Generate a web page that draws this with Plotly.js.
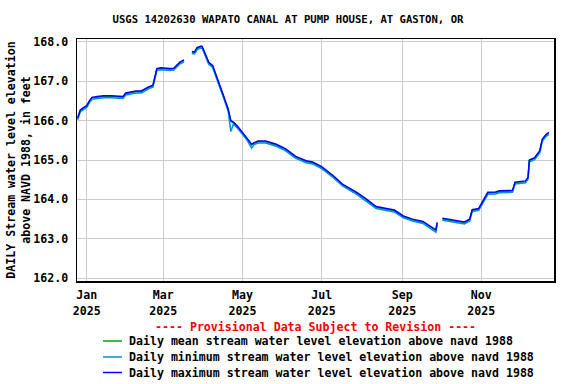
<!DOCTYPE html>
<html>
<head>
<meta charset="utf-8">
<script src="https://cdn.plot.ly/plotly-3.0.1.min.js"></script>
<style>
	html, body { margin: 0; padding: 0; background: #ffffff; }
	#plot { width: 576px; height: 384px; }
</style>
</head>
<body>
<div id="plot"></div>
<script>
const TITLE = "USGS 14202630 WAPATO CANAL AT PUMP HOUSE, AT GASTON, OR";
const Y_TITLE = "DAILY Stream water level elevation<br>above NAVD 1988, in feet";
const NOTE = "---- Provisional Data Subject to Revision ----";
const SERIES_NAMES = [
	"Daily mean stream water level elevation above navd 1988",
	"Daily minimum stream water level elevation above navd 1988",
	"Daily maximum stream water level elevation above navd 1988",
];
const SERIES_COLORS = ["#00a800", "#0090e0", "#0000ff"];

// dates (null rows are the gaps in the record)
const dates = [
	"2024-12-25", "2024-12-27", "2024-12-30", "2025-01-01", "2025-01-03", "2025-01-05", "2025-01-09", "2025-01-14", "2025-01-20", "2025-01-25", "2025-01-29", "2025-01-31",
	"2025-02-04", "2025-02-08", "2025-02-12", "2025-02-15", "2025-02-18", "2025-02-21", "2025-02-22", "2025-02-24", "2025-02-27",
	"2025-03-02", "2025-03-06", "2025-03-09", "2025-03-11", "2025-03-14", "2025-03-17", "2025-03-20", "2025-03-23", "2025-03-25", "2025-03-27", "2025-03-30", "2025-03-31",
	"2025-04-03", "2025-04-05", "2025-04-08", "2025-04-12", "2025-04-16", "2025-04-20", "2025-04-22", "2025-04-24", "2025-04-27",
	"2025-05-01", "2025-05-05", "2025-05-08", "2025-05-10", "2025-05-13", "2025-05-19", "2025-05-27",
	"2025-06-03", "2025-06-11", "2025-06-19", "2025-06-24",
	"2025-07-01", "2025-07-10", "2025-07-17", "2025-07-28",
	"2025-08-04", "2025-08-12", "2025-08-20", "2025-08-26",
	"2025-09-02", "2025-09-09", "2025-09-17", "2025-09-23", "2025-09-27", "2025-09-28", "2025-09-30",
	"2025-10-02", "2025-10-10", "2025-10-17", "2025-10-19", "2025-10-23", "2025-10-25", "2025-10-30",
	"2025-11-02", "2025-11-06", "2025-11-12", "2025-11-15", "2025-11-25", "2025-11-27",
	"2025-12-05", "2025-12-07", "2025-12-08", "2025-12-12", "2025-12-16", "2025-12-18", "2025-12-21", "2025-12-23",
];

const meanLevel = [
	166.05, 166.25, 166.32, 166.36, 166.48, 166.57, 166.59, 166.61, 166.61, 166.59, 166.59, 166.68,
	166.71, 166.73, 166.73, 166.79, 166.84, 166.88, 167.02, 167.30, 167.32,
	167.31, 167.30, 167.31, 167.37, 167.47, 167.52, null, 167.73, 167.72, 167.83, 167.87, 167.86,
	167.62, 167.46, 167.38, 167.03, 166.65, 166.27, 165.98, 165.94, 165.84,
	165.68, 165.51, 165.38, 165.42, 165.46, 165.46, 165.38,
	165.27, 165.07, 164.96, 164.93,
	164.81, 164.58, 164.37, 164.16,
	164.00, 163.80, 163.75, 163.71,
	163.56, 163.48, 163.42, 163.29, 163.21, 163.40, null,
	163.50, 163.46, 163.42, 163.41, 163.48, 163.72, 163.75,
	163.94, 164.16, 164.17, 164.20, 164.21, 164.42,
	164.45, 164.54, 164.98, 165.04, 165.21, 165.51, 165.63, 165.68,
];

const minLevel = [
	166.02, 166.22, 166.29, 166.33, 166.45, 166.54, 166.56, 166.58, 166.58, 166.56, 166.56, 166.65,
	166.68, 166.70, 166.70, 166.76, 166.81, 166.85, 166.99, 167.27, 167.29,
	167.28, 167.27, 167.28, 167.34, 167.44, 167.49, null, 167.70, 167.69, 167.80, 167.84, 167.83,
	167.59, 167.43, 167.35, 167.00, 166.62, 166.24, 165.72, 165.91, 165.81,
	165.65, 165.48, 165.30, 165.39, 165.43, 165.43, 165.35,
	165.24, 165.04, 164.93, 164.90,
	164.78, 164.55, 164.34, 164.13,
	163.97, 163.77, 163.72, 163.68,
	163.53, 163.45, 163.39, 163.26, 163.17, 163.37, null,
	163.47, 163.43, 163.39, 163.38, 163.45, 163.69, 163.72,
	163.91, 164.13, 164.14, 164.17, 164.18, 164.39,
	164.42, 164.51, 164.95, 165.01, 165.18, 165.48, 165.60, 165.65,
];

const maxLevel = [
	166.07, 166.27, 166.34, 166.38, 166.50, 166.59, 166.61, 166.63, 166.63, 166.61, 166.61, 166.70,
	166.73, 166.75, 166.75, 166.81, 166.86, 166.90, 167.04, 167.32, 167.34,
	167.33, 167.32, 167.33, 167.39, 167.49, 167.54, null, 167.75, 167.74, 167.85, 167.89, 167.88,
	167.64, 167.48, 167.40, 167.05, 166.67, 166.29, 166.00, 165.96, 165.86,
	165.70, 165.53, 165.40, 165.44, 165.48, 165.48, 165.40,
	165.29, 165.09, 164.98, 164.95,
	164.83, 164.60, 164.39, 164.18,
	164.02, 163.82, 163.77, 163.73,
	163.58, 163.50, 163.44, 163.31, 163.23, 163.42, null,
	163.52, 163.48, 163.44, 163.43, 163.50, 163.74, 163.77,
	163.96, 164.18, 164.19, 164.22, 164.23, 164.44,
	164.47, 164.56, 165.00, 165.06, 165.23, 165.53, 165.65, 165.70,
];

const X_RANGE = ["2024-12-24 12:00", "2025-12-27"];
const Y_RANGE = [161.93, 168.07];

const FONT = "DejaVu Sans Mono, monospace";

// plot box in pixels, used to place the hand-made legend below it
const PLOT_L = 77;
const PLOT_W = 477;
const PLOT_B = 281;
const PLOT_H = 242;
const px = (x) => (x - PLOT_L) / PLOT_W;
const py = (y) => (PLOT_B - y) / PLOT_H;

const traces = [meanLevel, minLevel, maxLevel].map((values, i) => ({
	x: dates,
	y: values,
	type: "scatter",
	mode: "lines",
	name: SERIES_NAMES[i],
	line: { color: SERIES_COLORS[i], width: 1.5 },
	connectgaps: false,
}));

// legend rows drawn by hand so the spacing matches
const LEGEND_ROWS = [341, 357, 372.5];
const legendShapes = LEGEND_ROWS.map((row, i) => ({
	type: "line",
	xref: "paper",
	yref: "paper",
	x0: px(103),
	x1: px(122),
	y0: py(row),
	y1: py(row),
	line: { color: SERIES_COLORS[i], width: 1.5 },
}));
const legendLabels = LEGEND_ROWS.map((row, i) => ({
	text: SERIES_NAMES[i],
	xref: "paper",
	yref: "paper",
	x: px(127),
	y: py(row),
	xanchor: "left",
	yanchor: "middle",
	showarrow: false,
	font: { family: FONT, size: 11.6, color: "#000000", weight: "bold" },
}));

const layout = {
	width: 576,
	height: 384,
	margin: { l: 77, r: 22, t: 39, b: 103 },
	paper_bgcolor: "#ffffff",
	plot_bgcolor: "#ffffff",
	font: { family: FONT, size: 11.6, color: "#000000", weight: "bold" },
	title: {
		text: TITLE,
		font: { family: FONT, size: 10.6, color: "#000000", weight: "bold" },
		x: 0.5,
		xref: "container",
		xanchor: "center",
		y: 1 - 19 / 384,
		yref: "container",
		yanchor: "middle",
	},
	xaxis: {
		type: "date",
		range: X_RANGE,
		tick0: "2025-01-01",
		dtick: "M2",
		tickformat: "%b<br>%Y",
		ticks: "",
		ticklabelstandoff: 3,
		showgrid: true,
		gridcolor: "#cccccc",
		gridwidth: 1,
		showline: true,
		linecolor: "#000000",
		linewidth: 1.5,
		mirror: true,
		zeroline: false,
		tickfont: { family: FONT, size: 11.6, weight: "bold" },
	},
	yaxis: {
		range: Y_RANGE,
		tick0: 162,
		dtick: 1,
		tickformat: ".1f",
		ticks: "",
		ticklabelstandoff: 5,
		showgrid: true,
		gridcolor: "#cccccc",
		gridwidth: 1,
		showline: true,
		linecolor: "#000000",
		linewidth: 1.5,
		mirror: true,
		zeroline: false,
		tickfont: { family: FONT, size: 11.6, weight: "bold" },
		title: {
			text: Y_TITLE,
			font: { family: FONT, size: 11.6, weight: "bold" },
			standoff: 0,
		},
	},
	showlegend: false,
	shapes: legendShapes,
	annotations: [
		{
			text: NOTE,
			xref: "paper",
			yref: "paper",
			x: 0.5,
			y: py(327),
			xanchor: "center",
			yanchor: "middle",
			showarrow: false,
			font: { family: FONT, size: 11.6, color: "#ff0000", weight: "bold" },
		},
	].concat(legendLabels),
};

const config = { staticPlot: true, displayModeBar: false };

Plotly.newPlot("plot", traces, layout, config);
</script>
</body>
</html>
